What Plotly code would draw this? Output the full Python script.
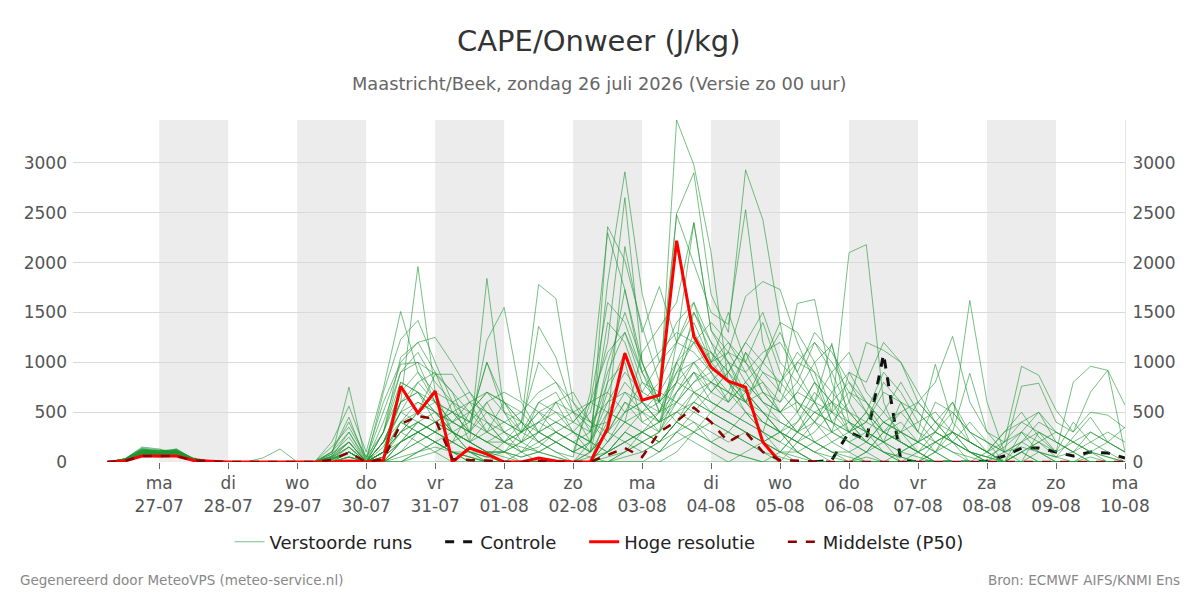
import pandas as pd
import plotly.graph_objects as go

# ---------------- data ----------------
start_time = "2026-07-26 06:00"
n_steps = 60
times = pd.date_range(start_time, periods=n_steps, freq="6h")

tick_dates = pd.date_range("2026-07-27", "2026-08-10", freq="D")
day_abbr = ["ma", "di", "wo", "do", "vr", "za", "zo", "ma", "di", "wo", "do", "vr", "za", "zo", "ma"]
tick_labels = [f"{d}<br>{t.strftime('%d-%m')}" for d, t in zip(day_abbr, tick_dates)]

shade_starts = ["2026-07-27", "2026-07-29", "2026-07-31", "2026-08-02", "2026-08-04", "2026-08-06", "2026-08-08"]

m01 = [0,20,110, 100,120,30,5, 0,0,0,0, 0,0,60,750, 0,200,600,1960, 700,300,100,50, 200,400,1780,1640, 600,300,800,1730, 1000,600,3430,2980, 2100,800,500,300, 100,300,600,1190, 400,200,100,50, 0,200,300,100, 50,0,100,200, 50,0,100,50, 0]
m02 = [0,30,150, 130,90,20,0, 0,0,0,0, 0,0,200,560, 100,740,1510,900, 600,400,300,1220, 1550,620,500,300, 200,100,2360,2020, 1360,800,2490,2900, 1680,1300,2930,2430, 1400,500,200,100, 0,50,0,0, 0,0,0,0, 0,0,0,0, 0,0,0,0, 0]
m03 = [0,20,90, 80,110,40,10, 0,0,40,130, 0,0,100,450, 0,700,1230,1420, 1000,600,200,1840, 500,300,1360,1050, 500,200,1800,2910, 1690,1000,1200,2400, 1320,1100,1660,1810, 1730,1200,800,400, 600,300,200,100, 50,0,0,0, 0,0,0,0, 0,0,0,0, 0]
m04 = [0,30,130, 110,130,30,5, 0,0,0,0, 0,0,150,350, 50,300,1050,1200, 1250,990,700,500, 300,100,300,400, 300,500,1200,2650, 1000,600,2480,2000, 1500,1380,2530,1200, 700,1590,1630,800, 300,500,200,0, 0,100,400,1620, 600,100,0,100, 0,0,50,0, 0]
m05 = [0,20,100, 90,100,25,5, 0,0,0,0, 0,0,50,300, 30,500,980,1000, 880,880,600,300, 600,500,700,800, 500,350,400,2160, 1300,1760,1200,1600, 1200,800,600,1000, 1400,1300,1000,500, 2100,2180,600,200, 100,0,0,0, 0,0,300,500, 200,100,0,0, 0]
m06 = [0,10,80, 70,90,20,0, 0,0,0,0, 0,0,30,200, 0,100,800,700, 600,500,400,1000, 600,300,200,100, 50,700,2300,1730, 900,500,800,1500, 1200,1000,900,600, 500,700,1000,1170, 600,1200,1120,1000, 700,400,200,100, 50,0,100,0, 0,0,0,0, 0]
m07 = [0,20,120, 100,80,30,5, 0,0,0,0, 0,0,0,100, 0,50,400,500, 880,700,500,400, 200,100,150,300, 400,600,500,400, 1100,1350,1600,2400, 1320,1000,700,500, 300,200,100,50, 0,0,0,0, 0,0,0,0, 0,0,0,0, 0,0,0,0, 0]
m08 = [0,20,90, 80,100,30,5, 0,0,0,0, 0,0,80,250, 0,300,700,900, 700,600,400,1000, 500,200,600,700, 400,300,1400,1200, 700,1000,1400,1600, 1000,1500,1000,1400, 900,600,400,300, 900,800,1200,1000, 600,800,1260,600, 300,200,960,870, 520,300,700,920, 570]
m09 = [0,30,110, 120,100,20,0, 0,0,0,0, 0,0,0,50, 0,100,600,800, 900,700,300,200, 100,50,100,200, 100,200,1000,1500, 1000,500,900,1200, 900,1100,1000,800, 600,1000,900,400, 200,300,500,800, 500,300,600,200, 100,0,200,300, 100,200,300,200, 100]
m10 = [0,20,100, 90,130,30,5, 0,0,0,0, 0,0,100,400, 50,600,1000,1200, 900,500,300,600, 700,600,300,200, 100,600,1600,1400, 900,600,800,700, 500,400,300,200, 100,50,0,0, 0,100,300,500, 600,400,200,0, 0,0,0,0, 0,0,0,0, 0]
m11 = [0,10,70, 60,80,20,0, 0,0,0,0, 0,0,20,150, 0,200,500,600, 500,400,300,200, 200,300,400,500, 300,200,700,1100, 600,400,1000,700, 600,500,400,300, 800,1000,1200,900, 500,300,200,600, 300,980,400,200, 100,0,0,300, 200,100,0,0, 0]
m12 = [0,20,80, 70,100,20,0, 0,0,0,0, 0,0,0,0, 0,50,300,400, 300,200,500,700, 600,400,200,100, 0,100,800,1000, 400,300,700,1000, 800,600,1100,700, 600,800,1200,1000, 700,600,400,300, 100,0,0,0, 0,0,0,0, 0,0,0,0, 0]
m13 = [0,30,120, 100,110,30,5, 0,0,0,0, 0,0,50,200, 0,400,900,1000, 600,300,100,50, 100,200,300,600, 300,100,300,600, 400,500,600,800, 900,600,800,1000, 1300,900,600,300, 200,100,300,400, 200,100,300,890, 300,100,760,790, 400,300,500,470, 340]
m14 = [0,20,100, 90,110,30,5, 0,0,0,0, 0,0,30,100, 0,100,400,600, 500,400,600,500, 400,300,500,600, 700,400,600,700, 500,300,600,900, 700,900,600,500, 300,200,100,0, 0,0,0,0, 0,0,0,0, 0,0,0,0, 0,0,0,0, 0]
m15 = [0,20,110, 100,100,30,5, 0,0,0,0, 0,0,0,0, 0,0,100,300, 200,100,0,0, 0,0,0,0, 0,200,500,400, 300,200,400,600, 800,700,1100,900, 700,500,800,600, 400,200,100,50, 0,0,0,0, 0,0,0,0, 0,0,0,0, 0]
m16 = [0,20,90, 80,100,20,0, 0,0,0,0, 0,0,40,150, 0,150,500,400, 300,600,700,400, 200,100,0,0, 0,0,100,300, 200,100,300,500, 400,300,200,100, 50,0,0,0, 0,100,200,300, 400,500,300,200, 100,300,400,300, 200,100,200,300, 200]
m17 = [0,30,130, 110,120,30,5, 0,0,0,0, 0,0,0,0, 0,0,200,300, 400,300,200,100, 50,0,0,0, 0,0,200,500, 600,400,800,1300, 1000,800,700,500, 400,300,500,600, 300,200,100,0, 0,0,0,0, 0,0,0,0, 0,0,0,0, 0]
m18 = [0,20,100, 90,100,30,5, 0,0,0,0, 0,0,20,100, 0,100,300,500, 600,500,400,300, 200,150,100,50, 0,100,300,200, 100,200,400,600, 500,400,300,200, 300,400,700,500, 300,400,800,600, 500,300,200,100, 0,0,0,0, 0,0,0,0, 0]
m19 = [0,10,60, 50,70,20,0, 0,0,0,0, 0,0,0,0, 0,0,100,200, 300,200,100,50, 0,0,0,0, 0,50,100,200, 300,200,400,300, 200,100,50,0, 100,300,500,400, 300,200,400,300, 200,100,0,0, 100,300,500,250, 100,800,960,920, 100]
m20 = [0,20,90, 80,90,20,0, 0,0,0,0, 0,0,0,0, 0,0,0,100, 200,100,100,0, 0,0,0,0, 0,0,0,100, 200,300,500,400, 300,200,300,200, 100,100,200,300, 400,300,200,100, 200,300,500,300, 200,100,150,100, 50,100,300,200, 350]
m21 = [0,20,80, 70,80,20,0, 0,0,0,0, 0,0,0,50, 0,200,400,300, 400,500,300,200, 300,400,300,200, 100,50,0,100, 300,500,700,900, 600,500,700,800, 500,600,400,200, 100,0,0,100, 200,600,500,300, 100,0,0,0, 0,0,0,0, 0]
m22 = [0,30,140, 120,90,30,5, 0,0,0,0, 0,0,100,300, 0,300,800,700, 500,300,200,400, 300,200,100,50, 0,0,500,800, 600,400,500,700, 800,1000,600,400, 300,100,0,0, 0,0,0,0, 0,0,0,0, 0,0,0,0, 0,0,0,0, 0]
m23 = [0,20,100, 90,110,30,5, 0,0,0,0, 0,0,0,0, 0,0,200,400, 500,300,200,100, 100,50,100,200, 300,200,100,300, 500,700,600,800, 1000,1200,1000,700, 500,300,200,100, 100,200,400,500, 300,100,0,0, 0,100,200,100, 0,0,0,0, 0]
m24 = [0,20,90, 80,90,20,0, 0,0,0,0, 0,0,0,50, 0,50,200,300, 200,100,50,0, 0,0,0,0, 0,0,50,100, 200,100,300,400, 200,300,500,400, 300,200,300,500, 700,500,300,200, 100,0,0,0, 0,0,0,0, 0,0,0,0, 0]
m25 = [0,10,70, 60,80,20,0, 0,0,0,0, 0,0,0,0, 0,0,50,100, 150,100,50,0, 0,0,0,0, 0,0,0,50, 100,200,300,200, 100,0,0,0, 0,0,0,0, 0,0,0,0, 100,200,300,100, 0,200,400,500, 300,200,100,0, 0]
m26 = [0,20,110, 100,100,30,5, 0,0,0,0, 0,0,60,200, 0,200,600,700, 400,500,600,700, 500,400,1000,800, 600,400,300,500, 800,600,400,300, 200,100,50,0, 0,0,0,0, 0,0,0,0, 0,0,0,0, 0,0,0,0, 0,0,0,0, 0]
m27 = [0,20,100, 90,120,30,5, 0,0,0,0, 0,0,0,100, 0,100,300,400, 300,200,100,100, 100,200,300,400, 500,600,700,500, 600,800,1200,1100, 900,700,500,300, 200,100,0,0, 0,0,0,0, 0,0,0,0, 0,0,0,0, 0,0,0,0, 0]
m28 = [0,20,90, 80,100,20,0, 0,0,0,0, 0,0,0,0, 0,0,100,200, 100,0,0,0, 0,0,0,0, 0,0,0,0, 0,100,200,300, 400,300,200,100, 0,200,400,600, 800,500,300,200, 100,200,100,50, 0,0,100,200, 300,200,100,50, 0]
m29 = [0,30,120, 110,90,30,5, 0,0,0,0, 0,0,30,100, 0,50,200,300, 200,100,50,0, 0,0,0,0, 0,0,100,300, 200,300,1200,1500, 1100,900,700,500, 300,100,0,0, 0,0,0,0, 0,100,200,400, 200,0,0,0, 0,0,0,0, 0]
m30 = [0,20,100, 90,110,30,5, 0,0,0,0, 0,0,0,0, 0,0,0,50, 100,200,300,200, 100,300,500,400, 300,200,100,200, 300,400,500,600, 500,400,300,200, 100,0,0,0, 0,0,0,0, 0,0,0,0, 0,0,0,0, 0,0,0,0, 0]
m31 = [0,20,100, 90,110,30,5, 0,0,0,0, 0,0,50,150, 0,200,500,800, 600,400,300,500, 400,300,600,500, 400,600,1100,1300, 800,700,1000,1200, 1100,900,1200,1000, 800,1100,900,700, 500,400,700,600, 300,200,100,0, 0,0,0,0, 0,0,0,0, 0]
m32 = [0,30,120, 100,90,20,0, 0,0,0,0, 0,0,0,100, 0,300,900,1100, 800,600,500,700, 600,400,200,300, 200,300,900,1300, 900,1100,1300,1200, 1400,1200,900,1100, 1200,900,1300,1100, 800,600,400,300, 200,300,200,100, 0,0,100,0, 0,0,0,0, 0]
m33 = [0,20,80, 70,90,20,0, 0,0,0,0, 0,0,0,50, 0,100,300,500, 400,300,200,300, 400,500,300,200, 100,200,600,900, 700,600,900,1000, 700,900,1200,1500, 1000,800,600,900, 1100,700,500,300, 200,400,600,300, 200,100,200,400, 300,200,100,200, 100]
m34 = [0,10,70, 60,80,20,0, 0,0,0,0, 0,0,0,0, 0,0,200,400, 300,200,100,0, 0,100,200,300, 200,100,300,600, 500,400,700,900, 800,700,600,900, 800,600,500,400, 300,500,900,700, 400,200,300,200, 100,200,300,200, 100,400,200,100, 0]
m35 = [0,20,100, 90,100,30,5, 0,0,0,0, 0,0,80,200, 0,200,600,700, 500,300,400,600, 300,200,400,600, 500,400,200,400, 500,600,800,1000, 1100,800,600,700, 500,700,600,300, 200,100,0,0, 0,0,0,0, 0,0,0,0, 0,0,0,0, 0]
m36 = [0,20,90, 80,100,20,0, 0,0,0,0, 0,0,0,0, 0,100,400,300, 200,100,0,0, 0,0,0,0, 0,0,100,200, 300,400,600,500, 700,600,800,600, 500,300,400,700, 900,600,300,200, 100,300,200,100, 50,150,300,100, 50,250,450,200, 100]
m37 = [0,30,130, 110,110,30,5, 0,0,0,0, 0,0,20,100, 0,100,300,200, 300,400,500,300, 200,300,400,300, 200,100,400,700, 600,500,1000,1400, 1000,1100,800,600, 400,300,200,100, 50,0,0,0, 0,0,0,0, 0,0,0,0, 0,0,0,0, 0]
m38 = [0,20,100, 90,90,20,0, 0,0,0,0, 0,0,0,0, 0,0,0,100, 200,300,200,100, 0,0,0,0, 0,0,0,0, 0,0,100,300, 500,700,600,400, 300,500,800,600, 500,300,100,0, 0,0,0,0, 0,0,0,0, 0,0,0,0, 0]
m39 = [0,20,90, 80,100,30,5, 0,0,0,0, 0,0,40,100, 0,100,200,300, 400,300,200,100, 100,0,0,0, 0,0,200,400, 300,200,400,700, 600,500,400,300, 200,400,600,500, 400,300,200,300, 600,400,300,200, 100,0,0,0, 0,0,0,0, 0]
m40 = [0,10,60, 50,70,20,0, 0,0,0,0, 0,0,0,0, 0,0,0,0, 0,0,0,0, 0,0,0,0, 0,0,0,0, 0,0,0,0, 0,0,100,200, 300,200,100,200, 300,400,300,200, 100,0,0,0, 0,0,0,0, 0,0,0,0, 0]
ensemble_members = [m01, m02, m03, m04, m05, m06, m07, m08, m09, m10,
                    m11, m12, m13, m14, m15, m16, m17, m18, m19, m20,
                    m21, m22, m23, m24, m25, m26, m27, m28, m29, m30,
                    m31, m32, m33, m34, m35, m36, m37, m38, m39, m40]

# control run: only the part visible in the chart (hidden below the ensemble before 05-08)
control = [None] * 41 + [0, 20, 300, 220, 1080, 20, 0, 0, 0, 0, 10, 60, 140, 140, 100, 60, 100, 90, 40]
hres = [0,10,60, 60,60,15,5, 0,0,0,0, 0,0,0,10, 0,20,760,490, 710,0,140,80, 0,0,40,10, 0,0,340,1090, 620,670,2220,1260, 950,810,750,200, 0]
p50 = [0,10,60, 60,60,15,5, 0,0,0,0, 0,0,20,95, 0,30,380,460, 430,30,20,15, 0,0,10,0, 0,0,70,140, 50,300,410,545, 400,200,300,100, 20,10,5,0, 0,0,0,0, 0,0,0,0, 0,0,0,0, 0,0,0,0, 0]

y_max = 3430
y_ticks = [0, 500, 1000, 1500, 2000, 2500, 3000]

# ---------------- figure ----------------
FONT = "DejaVu Sans"
NB = "\u00a0" * 4
fig = go.Figure()

fig.add_trace(go.Scatter(x=times, y=control, mode="lines", name="Controle" + NB, legendrank=2,
                         connectgaps=False, line=dict(color="#111111", width=3, dash="dash")))

for k, m in enumerate(ensemble_members):
    fig.add_trace(go.Scatter(
        x=times, y=m, mode="lines",
        line=dict(color="rgba(30,150,50,0.6)", width=1),
        name="Verstoorde runs" + NB, legendgroup="ens", showlegend=(k == 0), legendrank=1,
        hoverinfo="skip",
    ))

fig.add_trace(go.Scatter(x=times[:len(hres)], y=hres, mode="lines", name="Hoge resolutie" + NB,
                         legendrank=3, line=dict(color="#ff0000", width=3)))
fig.add_trace(go.Scatter(x=times, y=p50, mode="lines", name="Middelste (P50)", legendrank=4,
                         line=dict(color="#8b0000", width=2.5, dash="dash")))
# invisible trace to activate the right-hand axis
fig.add_trace(go.Scatter(x=[times[0]], y=[0], yaxis="y2", mode="lines",
                         line=dict(width=0), showlegend=False, hoverinfo="skip", opacity=0))

for s in shade_starts:
    s0 = pd.Timestamp(s)
    fig.add_vrect(x0=s0, x1=s0 + pd.Timedelta(days=1), fillcolor="#ececec",
                  line_width=0, layer="below")

axis_font = dict(family=FONT, size=17, color="#555555")
fig.update_layout(
    width=1200, height=600,
    margin=dict(l=73, r=75, t=120, b=138),
    paper_bgcolor="white", plot_bgcolor="white",
    font=dict(family=FONT, color="#333333"),
    showlegend=True,
    legend=dict(orientation="h", x=0.5, xanchor="center", y=-0.18, yanchor="top",
                font=dict(family=FONT, size=18, color="#222222"),
                bgcolor="rgba(0,0,0,0)"),
    xaxis=dict(
        range=[pd.Timestamp("2026-07-25 18:00"), pd.Timestamp("2026-08-10 00:00")],
        tickvals=list(tick_dates), ticktext=tick_labels,
        tickfont=axis_font, ticks="outside", ticklen=6, tickcolor="#666666",
        showgrid=False, zeroline=False, showline=False,
    ),
    yaxis=dict(
        range=[0, y_max], tickvals=y_ticks, tickfont=axis_font,
        showgrid=True, gridcolor="#d9d9d9", gridwidth=1, zeroline=False,
        ticks="", showline=False, ticklabelstandoff=5,
    ),
    yaxis2=dict(
        range=[0, y_max], tickvals=y_ticks, tickfont=axis_font,
        overlaying="y", side="right", showgrid=False, zeroline=False,
        showline=True, linecolor="#e6e6e6", linewidth=1, ticks="", ticklabelstandoff=3,
    ),
    annotations=[
        dict(text="CAPE/Onweer (J/kg)", xref="paper", yref="paper", x=0.5, y=(462 - 41) / 342,
             xanchor="center", yanchor="middle", showarrow=False,
             font=dict(family=FONT, size=29, color="#333333")),
        dict(text="Maastricht/Beek, zondag 26 juli 2026 (Versie zo 00 uur)", xref="paper", yref="paper",
             x=0.5, y=(462 - 83) / 342, xanchor="center", yanchor="middle", showarrow=False,
             font=dict(family=FONT, size=17.8, color="#666666")),
        dict(text="Gegenereerd door MeteoVPS (meteo-service.nl)", xref="paper", yref="paper",
             x=(18 - 73) / 1052, y=(462 - 580) / 342, xanchor="left", yanchor="middle", showarrow=False,
             font=dict(family=FONT, size=13.5, color="#888888")),
        dict(text="Bron: ECMWF AIFS/KNMI Ens", xref="paper", yref="paper",
             x=(1182 - 73) / 1052, y=(462 - 580) / 342, xanchor="right", yanchor="middle", showarrow=False,
             font=dict(family=FONT, size=13.5, color="#888888")),
    ],
)

fig.write_html("out.html")
